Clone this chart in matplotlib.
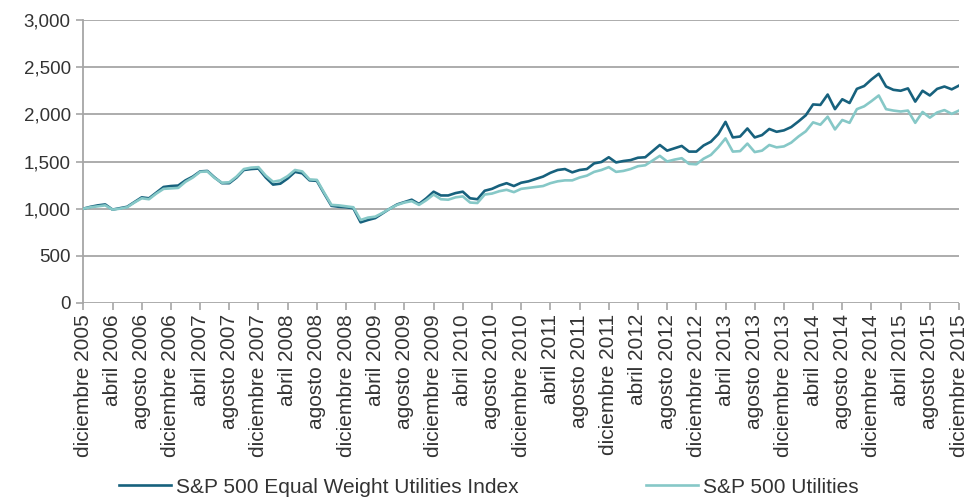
import numpy as np
import matplotlib
matplotlib.use("Agg")
import matplotlib.pyplot as plt

plt.rcParams['font.family'] = ['Liberation Sans', 'DejaVu Sans']

# indices mensuales, diciembre 2005 = 1000
ew_utilities = [
    1000, 1020, 1035, 1045, 990, 1005, 1020, 1070, 1120, 1110,
    1170, 1230, 1240, 1245, 1300, 1340, 1395, 1400, 1330, 1270,
    1270, 1330, 1410, 1420, 1425, 1330, 1255, 1265, 1320, 1390,
    1375, 1300, 1295, 1160, 1030, 1020, 1015, 1005, 855, 880,
    900, 950, 1000, 1045, 1070, 1095, 1050, 1110, 1180, 1140,
    1140, 1165, 1180, 1110, 1100, 1190, 1210, 1245, 1270, 1240,
    1275, 1290, 1315, 1340, 1380, 1410, 1420, 1385, 1410, 1420,
    1480, 1495, 1545, 1490, 1505, 1515, 1540, 1545, 1610, 1675,
    1615, 1640, 1665, 1605, 1605, 1670, 1710, 1790, 1920, 1755,
    1765, 1850, 1755, 1780, 1845, 1815, 1830, 1865, 1925, 1990,
    2105, 2100, 2210, 2055, 2160, 2120, 2270, 2300, 2370, 2430,
    2295, 2260, 2250, 2275, 2135, 2250, 2200, 2270, 2295, 2265, 2305,
]
sp_utilities = [
    1000, 1015, 1025, 1035, 990, 1000, 1015, 1065, 1110, 1100,
    1160, 1210, 1215, 1220, 1285, 1330, 1390, 1395, 1325, 1275,
    1280, 1340, 1420, 1435, 1440, 1350, 1285, 1300, 1345, 1410,
    1395, 1310, 1305, 1170, 1040, 1035, 1025, 1015, 880, 905,
    915, 955, 1000, 1040, 1065, 1080, 1040, 1090, 1150, 1100,
    1095, 1120, 1130, 1065, 1060, 1150, 1160, 1185, 1200, 1175,
    1210, 1220, 1230, 1240, 1270, 1290, 1300, 1300, 1330, 1350,
    1390, 1410, 1440, 1390, 1400, 1420, 1450, 1460, 1510, 1560,
    1500, 1520, 1535, 1475, 1470, 1530, 1570, 1650, 1745, 1605,
    1610, 1690, 1600, 1615, 1675, 1650, 1660, 1700, 1765, 1820,
    1915, 1890, 1975, 1840, 1940, 1910, 2055, 2085, 2140, 2200,
    2055, 2040, 2030, 2040, 1910, 2025, 1965, 2020, 2045, 2005, 2040,
]
meses = ['diciembre', 'abril', 'agosto']
anio_inicio = 2005

n = len(ew_utilities)
x = np.arange(n)
tick_pos = np.arange(0, n, 4)
tick_labels = []
for k, p in enumerate(tick_pos):
    anio = anio_inicio + (p + 11) // 12
    tick_labels.append(f"{meses[k % 3]} {anio}")

fig = plt.figure(figsize=(9.78, 4.99), dpi=100)
ax = fig.add_axes([0.0852, 0.3928, 0.8954, 0.5671])

gris = '#a6a6a6'
ax.plot(x, ew_utilities, color='#17617d', lw=1.9, label='S&P 500 Equal Weight Utilities Index', zorder=3)
ax.plot(x, sp_utilities, color='#86c8c7', lw=1.9, label='S&P 500 Utilities', zorder=4)

ax.set_xlim(0, n - 1)
ax.set_ylim(0, 3000)
ax.set_yticks(np.arange(0, 3001, 500))
ax.set_yticklabels([f"{v:,}" for v in range(0, 3001, 500)])
ax.set_xticks(tick_pos)
ax.set_xticklabels(tick_labels, rotation=90)

ax.grid(axis='y', color=gris, lw=1.3)
ax.set_axisbelow(True)
for s in ['top', 'right', 'bottom']:
    ax.spines[s].set_visible(False)
ax.spines['left'].set_color(gris)
ax.spines['left'].set_linewidth(1.3)
ax.tick_params(axis='x', colors=gris, labelcolor='#333333', labelsize=15, length=5, width=1.2, pad=3)
ax.tick_params(axis='y', colors=gris, labelcolor='#333333', labelsize=13.5, length=5, width=1.2, pad=4)

fig.legend(loc='center', bbox_to_anchor=(0.5, 0.024), ncol=2, frameon=False,
           fontsize=15, handlelength=2.5, handletextpad=0.25, columnspacing=6.1,
           labelcolor='#333333')

fig.savefig('out.png', dpi=100)
